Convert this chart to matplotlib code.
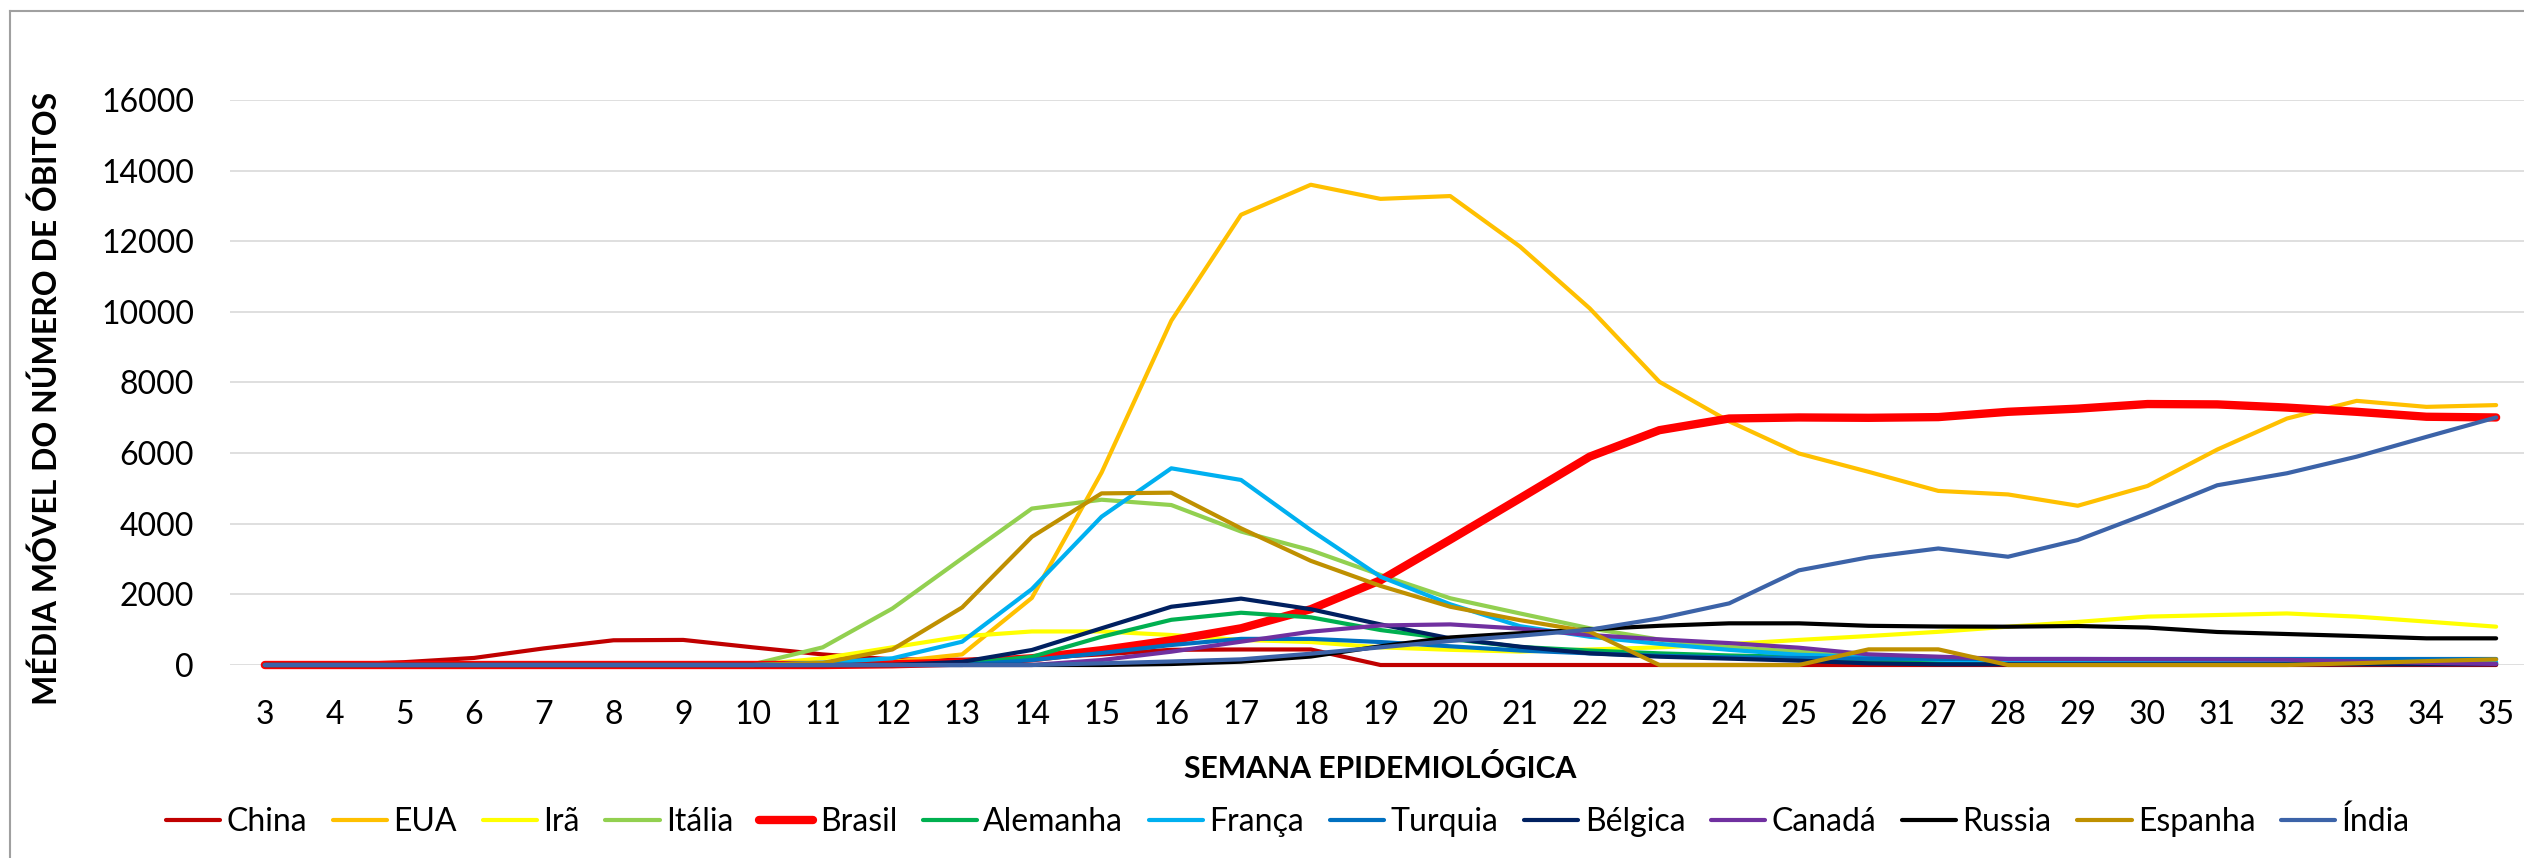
import matplotlib
matplotlib.use('Agg')
import matplotlib.pyplot as plt
from matplotlib.lines import Line2D
import numpy as np

plt.rcParams['font.family'] = ['Lato', 'DejaVu Sans']

# Semanas epidemiologicas
semanas = list(range(3, 36))

# Media movel do numero de obitos por pais (semana 3 ate 35)
china = [0, 10, 80, 200, 470, 700, 710, 500, 300, 160, 150, 200, 300, 430, 440, 440,
         0, 0, 0, 0, 0, 0, 0, 0, 0, 0, 0, 0, 0, 0, 0, 0, 0]
eua = [0, 0, 0, 0, 0, 0, 0, 0, 0, 90, 300, 1900, 5450, 9750, 12750, 13600,
       13200, 13280, 11850, 10100, 8020, 6900, 5990, 5470, 4930, 4830, 4510, 5070, 6100, 6980, 7480, 7310, 7360]
ira = [0, 0, 0, 0, 0, 0, 0, 0, 190, 500, 810, 950, 950, 850, 710, 650,
       500, 430, 380, 440, 500, 590, 710, 820, 940, 1085, 1220, 1370, 1415, 1460, 1370, 1230, 1085]
italia = [0, 0, 0, 0, 0, 0, 0, 20, 500, 1600, 3020, 4430, 4680, 4530, 3780, 3250,
          2550, 1890, 1460, 1040, 720, 500, 380, 250, 150, 100, 60, 60, 50, 50, 50, 50, 50]
brasil = [0, 0, 0, 0, 0, 0, 0, 0, 0, 20, 70, 190, 420, 700, 1040, 1580,
          2400, 3550, 4720, 5900, 6650, 6980, 7010, 7000, 7020, 7170, 7260, 7390, 7380, 7290, 7170, 7030, 7010]
alemanha = [0, 0, 0, 0, 0, 0, 0, 0, 0, 0, 40, 230, 800, 1280, 1480, 1350,
            990, 740, 510, 410, 330, 270, 230, 120, 80, 50, 40, 40, 40, 40, 40, 40, 40]
franca = [0, 0, 0, 0, 0, 0, 0, 0, 66, 190, 660, 2150, 4200, 5570, 5240, 3820,
          2500, 1720, 1100, 800, 600, 430, 290, 230, 150, 100, 80, 80, 80, 80, 80, 80, 80]
turquia = [0, 0, 0, 0, 0, 0, 0, 0, 0, 0, 0, 140, 340, 566, 740, 740,
           650, 530, 410, 330, 260, 217, 198, 180, 175, 170, 170, 170, 170, 170, 170, 170, 170]
belgica = [0, 0, 0, 0, 0, 0, 0, 0, 0, 0, 90, 425, 1040, 1650, 1880, 1580,
           1150, 755, 519, 330, 236, 180, 123, 47, 20, 20, 20, 20, 20, 20, 20, 20, 20]
canada = [0, 0, 0, 0, 0, 0, 0, 0, 0, 0, 0, 0, 141, 377, 660, 943,
          1120, 1150, 1030, 849, 726, 620, 490, 302, 236, 170, 170, 165, 160, 150, 100, 60, 30]
russia = [0, 0, 0, 0, 0, 0, 0, 0, 0, 0, 0, 0, 0, 28, 94, 240,
          530, 780, 900, 1010, 1110, 1180, 1180, 1110, 1090, 1085, 1104, 1060, 935, 877, 820, 755, 755]
espanha = [0, 0, 0, 0, 0, 0, 0, 0, 60, 440, 1630, 3630, 4860, 4880, 3870, 2950,
           2240, 1650, 1270, 943, 0, 0, 0, 443, 443, 0, 0, 0, 0, 0, 50, 110, 160]
india = [0, 0, 0, 0, 0, 0, 0, 0, 0, 0, 0, 0, 47, 100, 160, 320,
         500, 680, 830, 1000, 1320, 1745, 2680, 3050, 3300, 3066, 3540, 4290, 5090, 5430, 5900, 6460, 7010]

paises = ['China', 'EUA', 'Irã', 'Itália', 'Brasil', 'Alemanha', 'França',
          'Turquia', 'Bélgica', 'Canadá', 'Russia', 'Espanha', 'Índia']
series = [china, eua, ira, italia, brasil, alemanha, franca,
          turquia, belgica, canada, russia, espanha, india]
cores = ['#C00000', '#FFC000', '#FFFF00', '#92D050', '#FF0000', '#00B050', '#00B0F0',
         '#0070C0', '#002060', '#7030A0', '#000000', '#BF9000', '#3C63A8']

W, H = 2524, 858
fig = plt.figure(figsize=(W / 100, H / 100), dpi=100)
ax = fig.add_axes([230 / W, 1 - 665 / H, 2301 / W, 565 / H])

# Linhas de cada pais (Brasil mais grossa)
for nome, valores, cor in zip(paises, series, cores):
    lw = 6.0 if nome == 'Brasil' else 3.0
    ax.plot(semanas, valores, color=cor, linewidth=lw, label=nome,
            solid_capstyle='round', solid_joinstyle='round', clip_on=False)

ax.set_xlim(2.5, 35.5)
ax.set_ylim(0, 16000)
ax.set_xticks(semanas)
ax.set_yticks(np.arange(0, 16001, 2000))
ax.tick_params(axis='both', length=0, labelsize=23)
ax.tick_params(axis='y', pad=26)
ax.tick_params(axis='x', pad=25)

ax.yaxis.grid(True, color='#D9D9D9', linewidth=1.2)
ax.set_axisbelow(True)
for s in ax.spines.values():
    s.set_visible(False)

# Titulos dos eixos
fig.text(47 / W, 1 - 398 / H, 'MÉDIA MÓVEL DO NÚMERO DE ÓBITOS', rotation=90,
         ha='center', va='center', fontsize=23, fontweight='bold')
fig.text(1380 / W, 1 - 769 / H, 'SEMANA EPIDEMIOLÓGICA',
         ha='center', va='center', fontsize=21.7, fontweight='bold')

# Legenda
fig.legend(loc='center', bbox_to_anchor=(1288 / W, 1 - 822 / H), ncol=13,
           frameon=False, fontsize=23, handlelength=1.7, handletextpad=0.2,
           columnspacing=0.8)

# Borda da area do grafico
fig.add_artist(Line2D([10 / W, 10 / W], [0, 1 - 11 / H], color='#A0A0A0', linewidth=1.5))
fig.add_artist(Line2D([10 / W, 1], [1 - 11 / H, 1 - 11 / H], color='#A0A0A0', linewidth=1.5))

fig.savefig('out.png', dpi=100)
